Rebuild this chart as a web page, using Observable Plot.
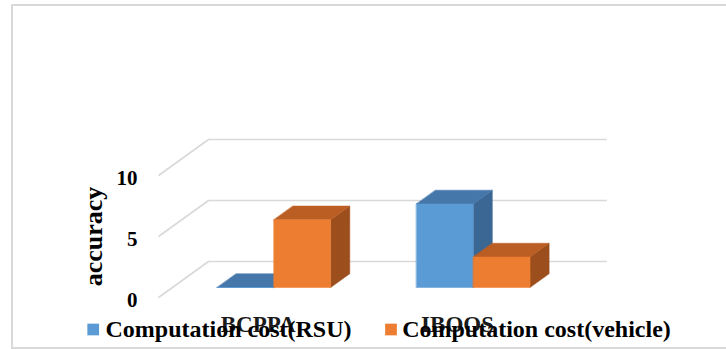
<!DOCTYPE html>
<html><head><meta charset="utf-8">
<script src="https://cdn.jsdelivr.net/npm/d3@7"></script>
<script src="https://cdn.jsdelivr.net/npm/@observablehq/plot@0.6"></script>
<style>
html,body{margin:0;padding:0;background:#fff;}
#wrap{position:relative;width:726px;height:349px;overflow:hidden;}
#border{position:absolute;left:11px;top:4px;width:760px;height:341px;border:2px solid #d9d9d9;pointer-events:none;}
</style></head><body><div id="wrap"><div id="chart"></div><div id="border"></div></div>
<script>
// ---- data ----
const categories = ["BCPPA", "IBOOS"];
const series = ["Computation cost(RSU)", "Computation cost(vehicle)"];
const rsu = [0, 6.85];
const vehicle = [5.55, 2.5];
const yTicks = [0, 5, 10];
const yTitle = "accuracy";
const frontColors = ["#5B9BD5", "#ED7D31"];
const topColors = ["#4677AA", "#BB5E23"];
const sideColors = ["#3A6794", "#9C4E1C"];

// ---- layout ----
const W = 726, H = 349;
const xDomain = [-0.5, 1.5], xRange = [158, 556.7];
const yDomain = [0, 10], yRange = [297, 175];
const kx = (xRange[1] - xRange[0]) / (xDomain[1] - xDomain[0]);
const ky = (yRange[0] - yRange[1]) / (yDomain[1] - yDomain[0]);
const depthPx = [50, -36];
const DX = depthPx[0] / kx, DY = -depthPx[1] / ky;
const P = (x, y, t) => ({x: x + t * DX, y: y + t * DY});
const t0 = 0.278, t1 = 0.66;
const barOffset = -0.276, barW = 0.285;
const values = [rsu, vehicle];
const faceColors = {side: sideColors, top: topColors, front: frontColors};

const faces = [];
for (const face of ["side", "top", "front"]) {
  categories.forEach((cat, c) => {
    values.forEach((vals, s) => {
      const v = vals[c];
      const xl = c + barOffset + s * barW, xr = xl + barW;
      let pts;
      if (face === "front") pts = [P(xl, 0, t0), P(xr, 0, t0), P(xr, v, t0), P(xl, v, t0)];
      else if (face === "top") pts = [P(xl, v, t0), P(xr, v, t0), P(xr, v, t1), P(xl, v, t1)];
      else pts = [P(xr, 0, t0), P(xr, 0, t1), P(xr, v, t1), P(xr, v, t0)];
      const id = face + "-" + c + "-" + s;
      pts.forEach(p => faces.push({...p, id, color: faceColors[face][s]}));
    });
  });
}

const serif = "'Liberation Serif', 'Times New Roman', serif";
const legendX = [92.7, 390.5];
const legendTextX = [105, 401.7];

const plot = Plot.plot({
  width: W, height: H,
  marginTop: 0, marginRight: 0, marginBottom: 0, marginLeft: 0,
  x: {type: "linear", domain: xDomain, range: xRange, axis: null},
  y: {type: "linear", domain: yDomain, range: yRange, axis: null},
  color: {type: "identity"},
  style: {background: "transparent", fontFamily: serif, overflow: "visible"},
  marks: [
    // back wall gridlines
    Plot.ruleY(yTicks, {y: d => d + DY, x1: xDomain[0] + DX, x2: xDomain[1] + DX, stroke: "#d9d9d9", strokeWidth: 1.6}),
    // left wall diagonals
    Plot.link(yTicks, {x1: xDomain[0], y1: d => d, x2: xDomain[0] + DX, y2: d => d + DY, stroke: "#d9d9d9", strokeWidth: 1.6}),
    // 3D bars
    Plot.line(faces, {x: "x", y: "y", z: "id", fill: "color", stroke: "color", strokeWidth: 0.5, curve: "linear-closed"}),
    // tick labels
    Plot.text(yTicks, {x: xDomain[0], y: d => d, text: d => String(d), dx: -21, dy: 3, textAnchor: "end", lineAnchor: "middle", fontSize: 21, fontWeight: "bold", fill: "#000"}),
    // axis title
    Plot.text([yTitle], {x: xDomain[0], y: 5, text: d => d, dx: -65, rotate: -90, lineAnchor: "middle", fontSize: 26, fontWeight: "bold", fill: "#000"}),
    // category labels
    Plot.text(categories, {x: (d, i) => i, y: 0, text: d => d, dy: 27.6, lineAnchor: "middle", fontSize: 23, fontWeight: "bold", fill: "#1a1a1a"}),
    // legend
    ...series.map((name, i) => Plot.dot([name], {frameAnchor: "top-left", dx: legendX[i], dy: 329, symbol: "square", r: 6.6, fill: frontColors[i], stroke: "none"})),
    ...series.map((name, i) => Plot.text([name], {frameAnchor: "top-left", dx: legendTextX[i], dy: 328.8, text: d => d, textAnchor: "start", lineAnchor: "middle", fontSize: 24, fontWeight: "bold", fill: "#000"}))
  ]
});
document.getElementById("chart").appendChild(plot);
</script>
</body></html>
